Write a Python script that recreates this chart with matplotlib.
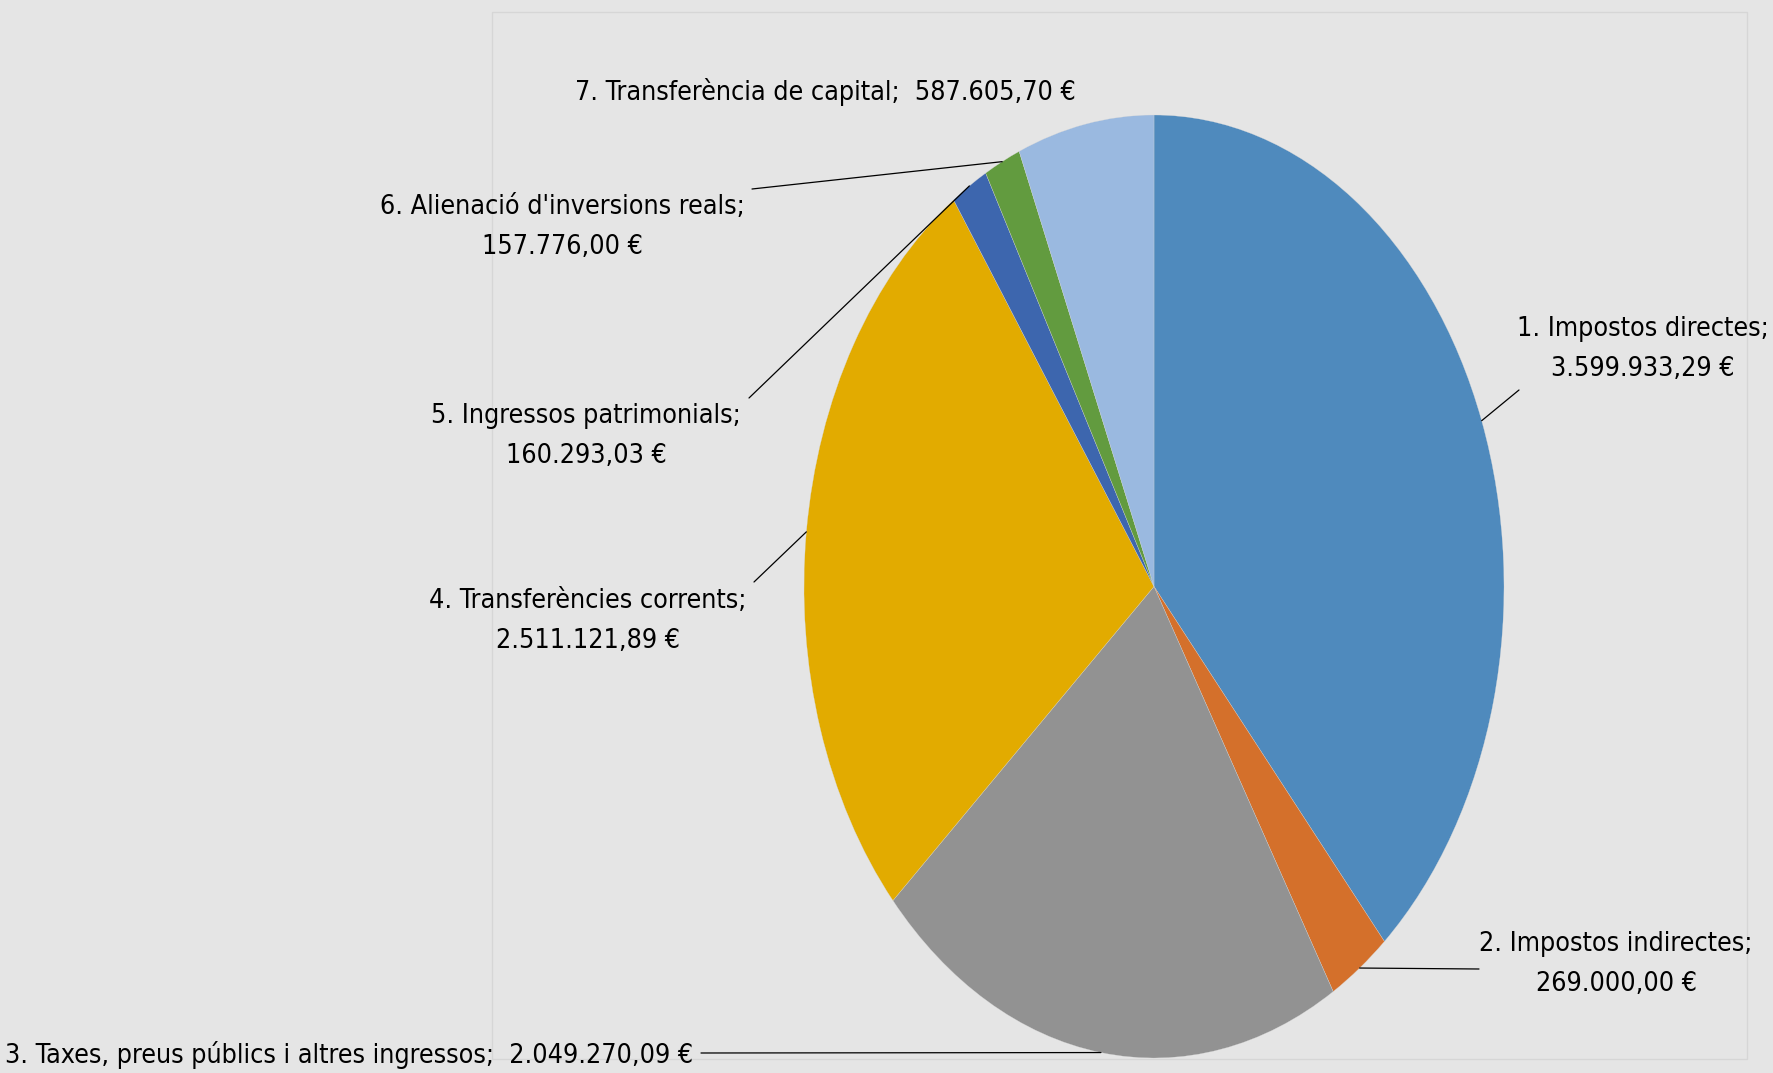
import numpy as np
import matplotlib
matplotlib.use("Agg")
import matplotlib.pyplot as plt
from matplotlib.patches import Rectangle

# Data
categories = ["1. Impostos directes", "2. Impostos indirectes",
              "3. Taxes, preus públics i altres ingressos", "4. Transferències corrents",
              "5. Ingressos patrimonials", "6. Alienació d'inversions reals",
              "7. Transferència de capital"]
values = [3599933.29, 269000.00, 2049270.09, 2511121.89, 160293.03, 157776.00, 587605.70]
colors = ["#4f8abd", "#d4702b", "#929292", "#e2ab00", "#3d66ae", "#629b3f", "#9ab9e0"]

W, H = 1773, 1073
BG = "#e5e5e5"
plt.rcParams['font.family'] = ['Liberation Sans Narrow', 'DejaVu Sans']
plt.rcParams['font.stretch'] = 'condensed'

def fmt(v):
    s = f"{v:,.2f}"
    return s.replace(",", "X").replace(".", ",").replace("X", ".") + " €"

fig = plt.figure(figsize=(W / 100, H / 100), dpi=100, facecolor=BG)

# plot area frame
fig.patches.append(Rectangle((492 / W, 1 - 1059 / H), (1747 - 492) / W, (1059 - 12) / H,
                             transform=fig.transFigure, facecolor='none',
                             edgecolor="#d6d6d6", lw=1, zorder=0))

# elliptical pie: centre (1154, 586.5), rx 350, ry 471.5 px
cx, cy, rx, ry = 1154, 586.5, 350, 471.5
ax = fig.add_axes([(cx - rx) / W, 1 - (cy + ry) / H, 2 * rx / W, 2 * ry / H])
ax.set_zorder(2)
ax.patch.set_visible(False)
wedges, _ = ax.pie(values, colors=colors, startangle=90, counterclock=False,
                   wedgeprops=dict(edgecolor="#d8d8d8", linewidth=0.2))
ax.set_aspect('auto')
ax.set_xlim(-1, 1)
ax.set_ylim(-1, 1)
ax.axis('off')
for w in wedges:
    w.set_clip_on(False)

# pick a font size so the first label is about as wide as in the reference
probe = fig.text(0, 0, categories[0] + ";", fontsize=23.5)
rend = fig.canvas.get_renderer()
pw = probe.get_window_extent(rend).width
probe.remove()
fs = min(23.5, 23.5 * 252 / pw)

# label positions (figure px from top-left): text centre, line end
labels = [
    (f"{categories[0]};\n{fmt(values[0])}", (1643, 349), 'center', (1519, 390)),
    (f"{categories[1]};\n{fmt(values[1])}", (1616, 964), 'center', (1479, 969)),
    (f"{categories[2]};  {fmt(values[2])}", (693, 1055), 'right', (701, 1053)),
    (f"{categories[3]};\n{fmt(values[3])}", (588, 621), 'center', (754, 582)),
    (f"{categories[4]};\n{fmt(values[4])}", (586, 436), 'center', (749, 398)),
    (f"{categories[5]};\n{fmt(values[5])}", (562, 227), 'center', (752, 189)),
    (f"{categories[6]};  {fmt(values[6])}", (825, 92), 'center', None),
]

for w, (txt, (tx, ty), ha, lend) in zip(wedges, labels):
    fig.text(tx / W, 1 - ty / H, txt, ha=ha, va='center', ma='center',
             fontsize=fs, color='black', linespacing=1.68)
    if lend is not None:
        th = np.deg2rad((w.theta1 + w.theta2) / 2)
        ax.annotate('', xy=(np.cos(th), np.sin(th)), xycoords='data',
                    xytext=(lend[0], H - lend[1]), textcoords='figure pixels',
                    arrowprops=dict(arrowstyle='-', color='black', lw=0.9,
                                    shrinkA=0, shrinkB=0))

fig.savefig("out.png", dpi=100, facecolor=BG)
